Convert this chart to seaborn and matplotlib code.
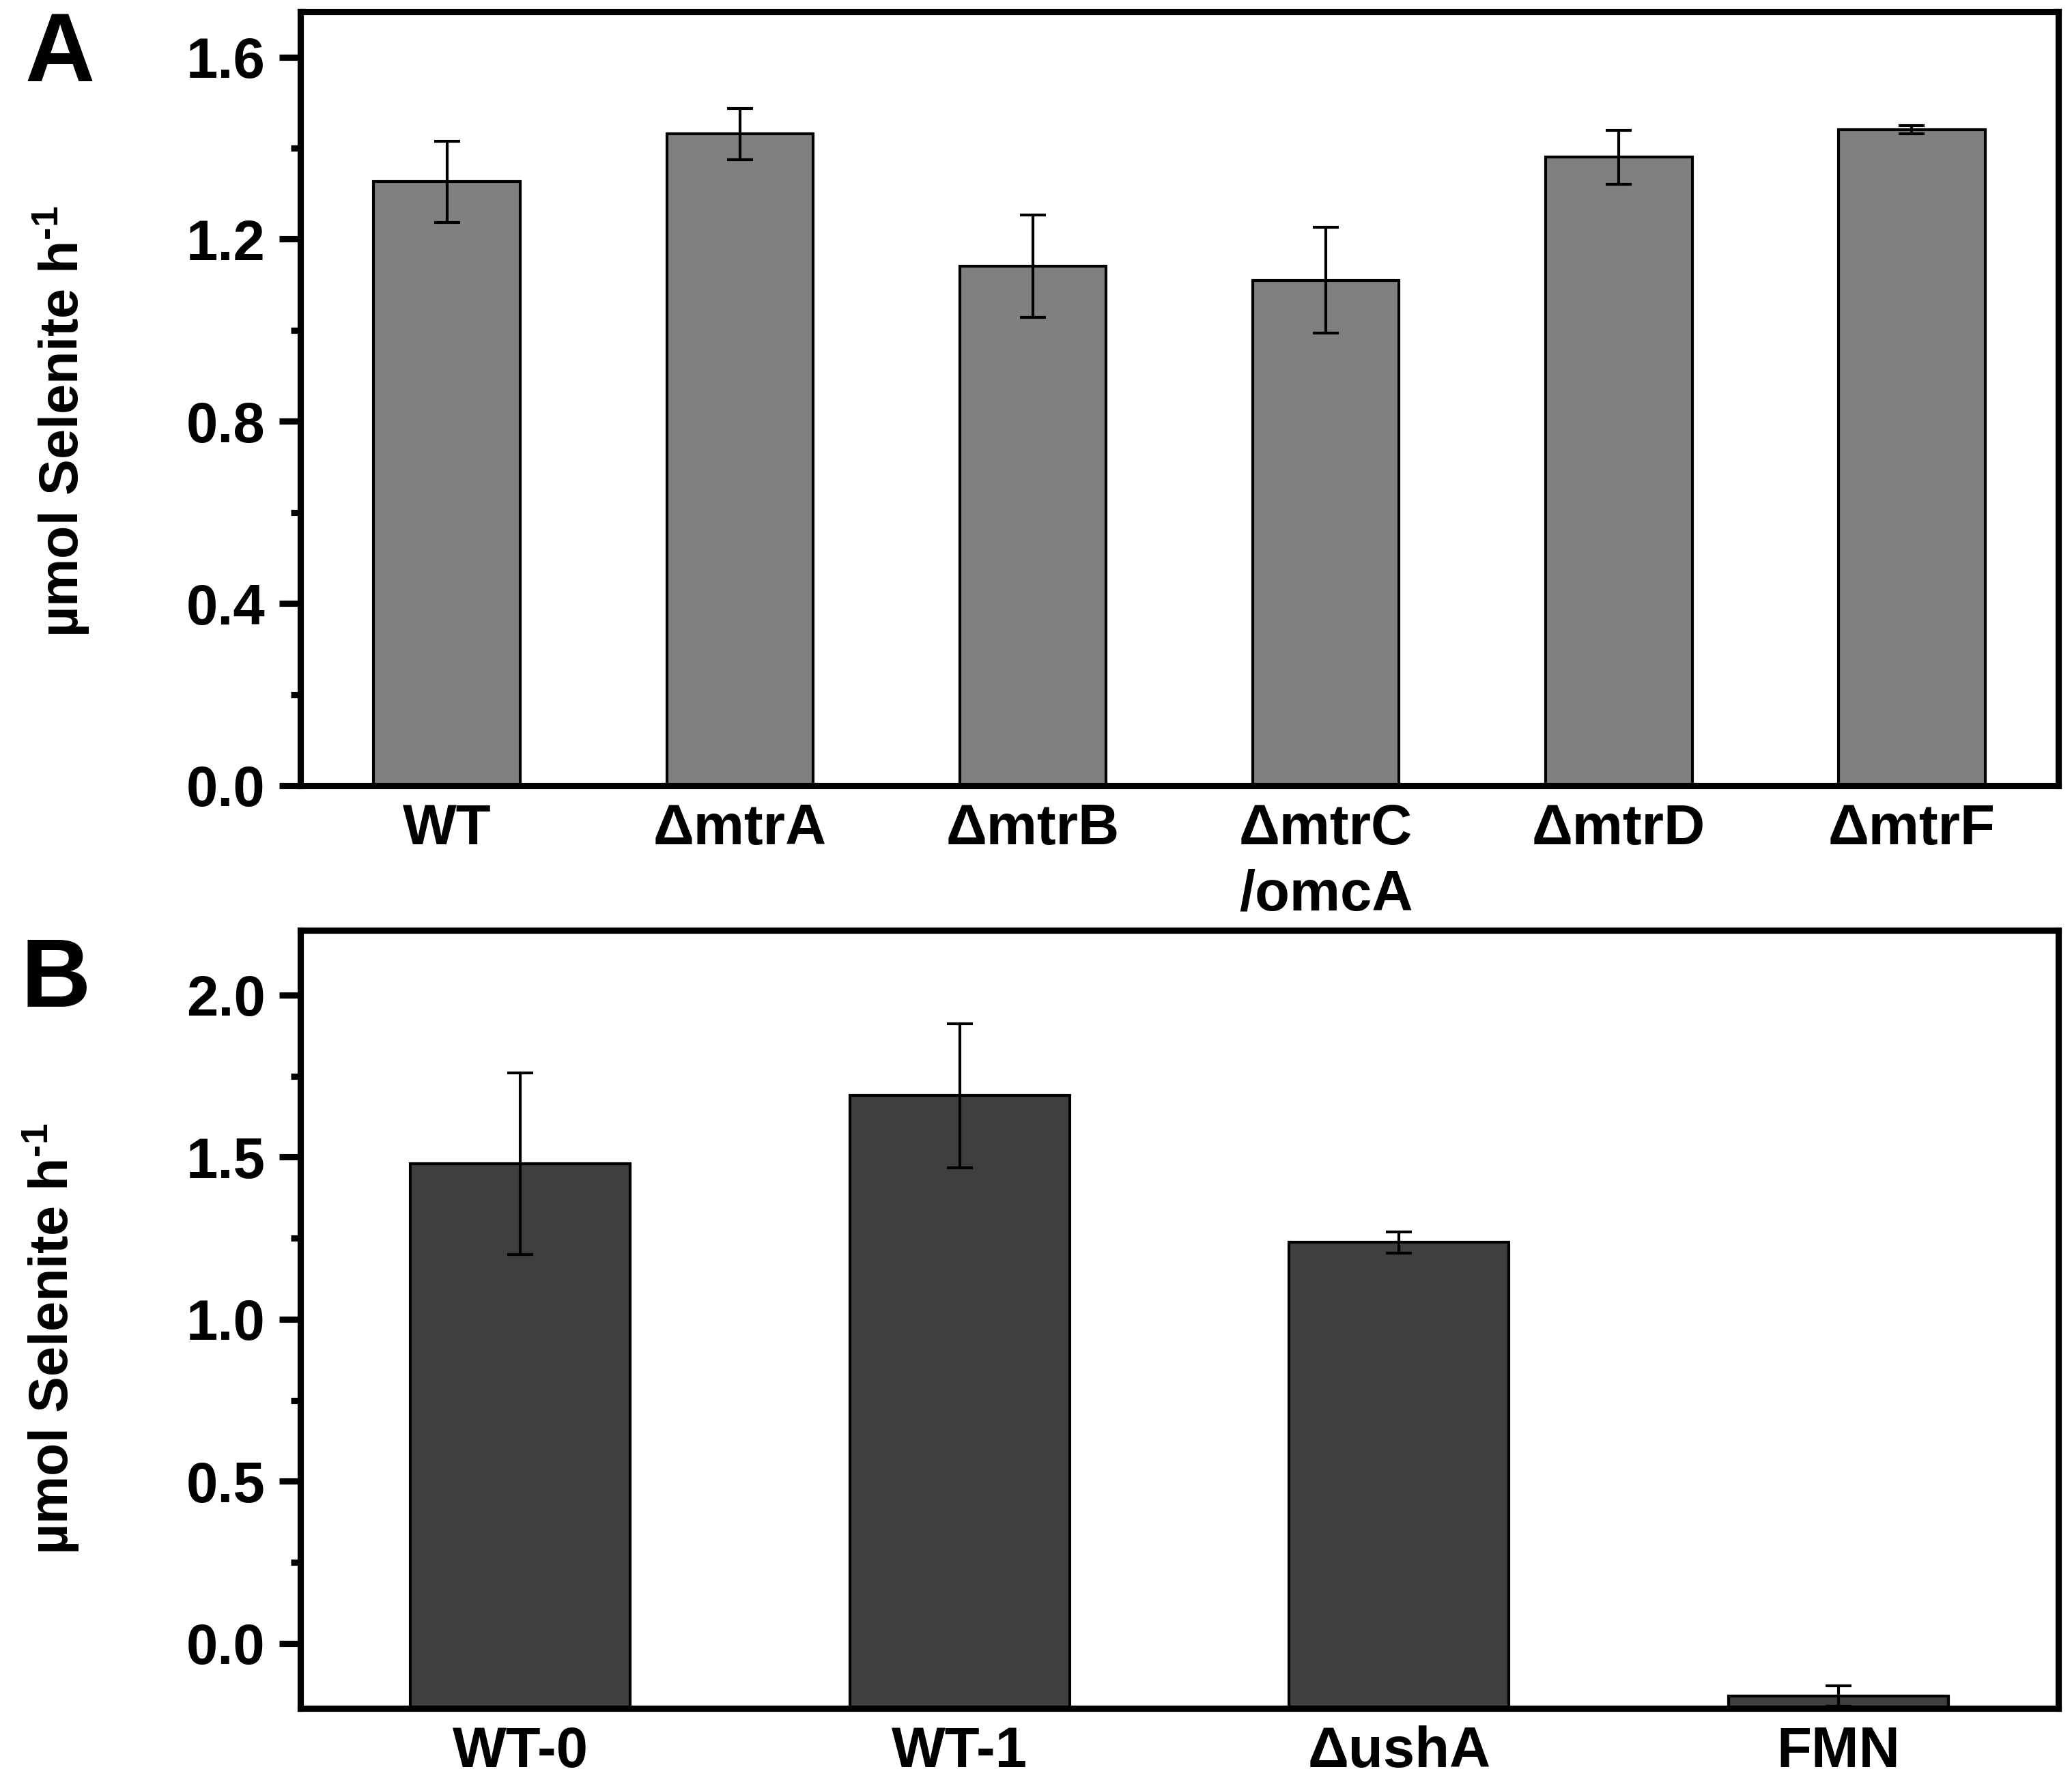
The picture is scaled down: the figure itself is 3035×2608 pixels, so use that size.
import numpy as np
import pandas as pd
import matplotlib
matplotlib.use("Agg")
import matplotlib.pyplot as plt
import seaborn as sns
from matplotlib.ticker import MultipleLocator, FormatStrFormatter

# panel A - mutants
cepas_a = ["WT", "\u0394mtrA", "\u0394mtrB", "\u0394mtrC\n/omcA", "\u0394mtrD", "\u0394mtrF"]
tasa_a = [1.326, 1.431, 1.141, 1.110, 1.380, 1.440]
err_a = [0.089, 0.056, 0.112, 0.116, 0.059, 0.009]

# panel B
cepas_b = ["WT-0", "WT-1", "\u0394ushA", "FMN"]
tasa_b = [1.480, 1.690, 1.237, -0.162]
err_b = [0.280, 0.222, 0.033, 0.031]

ylab = "\u00b5mol Selenite h$^{\\text{-}1}$"

sns.set_style("ticks")
plt.rcParams["font.family"] = ["Liberation Sans", "DejaVu Sans"]
plt.rcParams["font.weight"] = "bold"
plt.rcParams["mathtext.fontset"] = "custom"
plt.rcParams["mathtext.rm"] = "Liberation Sans:bold"
plt.rcParams["mathtext.bf"] = "Liberation Sans:bold"
plt.rcParams["mathtext.it"] = "Liberation Sans:bold"
plt.rcParams["mathtext.default"] = "bf"
plt.rcParams["text.color"] = "black"
plt.rcParams["axes.edgecolor"] = "black"
plt.rcParams["axes.labelcolor"] = "black"
plt.rcParams["xtick.color"] = "black"
plt.rcParams["ytick.color"] = "black"

fig = plt.figure(figsize=(3035 / 300, 2608 / 300), dpi=300)
ax_a = fig.add_axes([0.145, 0.5587, 0.8484, 0.4348])
ax_b = fig.add_axes([0.145, 0.0403, 0.8484, 0.4371])

df_a = pd.DataFrame({"cepa": cepas_a, "tasa": tasa_a})
df_b = pd.DataFrame({"cepa": cepas_b, "tasa": tasa_b})

sns.barplot(data=df_a, x="cepa", y="tasa", color="#808080", saturation=1,
            width=0.5, edgecolor="black", linewidth=1.0, errorbar=None, ax=ax_a)
sns.barplot(data=df_b, x="cepa", y="tasa", color="#3f3f3f", saturation=1,
            width=0.5, edgecolor="black", linewidth=1.0, errorbar=None, ax=ax_b)

# las barras de B arrancan desde el fondo del eje (estilo Origin)
fondo_b = -0.2
for p, v in zip(ax_b.patches, tasa_b):
    p.set_y(fondo_b)
    p.set_height(v - fondo_b)

ax_a.errorbar(np.arange(len(cepas_a)), tasa_a, yerr=err_a, fmt="none",
              ecolor="black", elinewidth=1.0, capsize=4.5, capthick=1.0)
ax_b.errorbar(np.arange(len(cepas_b)), tasa_b, yerr=err_b, fmt="none",
              ecolor="black", elinewidth=1.0, capsize=4.5, capthick=1.0)

ax_a.set_ylim(0, 1.7)
ax_a.set_xlim(-0.5, len(cepas_a) - 0.5)
ax_a.yaxis.set_major_locator(MultipleLocator(0.4))
ax_a.yaxis.set_minor_locator(MultipleLocator(0.2))

ax_b.set_ylim(-0.2, 2.2)
ax_b.set_xlim(-0.5, len(cepas_b) - 0.5)
ax_b.yaxis.set_major_locator(MultipleLocator(0.5))
ax_b.yaxis.set_minor_locator(MultipleLocator(0.25))

for ax, lx, ly in [(ax_a, -0.136, 0.47), (ax_b, -0.142, 0.475)]:
    ax.yaxis.set_major_formatter(FormatStrFormatter("%.1f"))
    for s in ax.spines.values():
        s.set_linewidth(2.2)
        s.set_color("black")
        s.set_visible(True)
    ax.tick_params(axis="y", which="major", direction="out", length=7.4,
                   width=2.2, labelsize=20, pad=5, colors="black")
    ax.tick_params(axis="y", which="minor", direction="out", length=3.4, width=2.2,
                   colors="black")
    ax.tick_params(axis="x", length=0, labelsize=20, pad=6, colors="black")
    for t in ax.get_xticklabels() + ax.get_yticklabels():
        t.set_fontweight("bold")
        t.set_linespacing(1.3)
    ax.set_xlabel("")
    ax.set_ylabel(ylab, fontsize=19, fontweight="bold", va="center", color="black")
    ax.yaxis.set_label_coords(lx, ly)

fig.text(36 / 3035, 1 - 15 / 2608, "A", fontsize=34, fontweight="bold", ha="left", va="top")
fig.text(31 / 3035, 1 - 1371 / 2608, "B", fontsize=34, fontweight="bold", ha="left", va="top")

fig.savefig("out.png", dpi=300)
